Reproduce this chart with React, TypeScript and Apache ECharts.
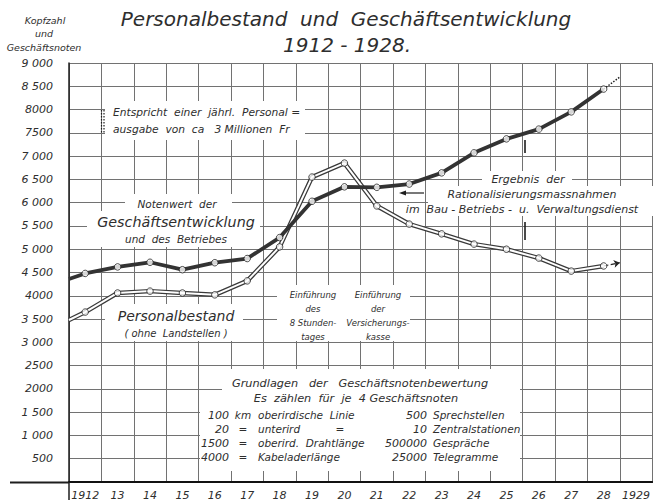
import React, { useEffect, useRef } from "react";
import * as echarts from "echarts";

// ---- data ----
const years = [1912, 1913, 1914, 1915, 1916, 1917, 1918, 1919, 1920, 1921, 1922, 1923, 1924, 1925, 1926, 1927, 1928];
const yearLabels = ["1912", "13", "14", "15", "16", "17", "18", "19", "20", "21", "22", "23", "24", "25", "26", "27", "28", "1929"];
const businessNotes = [4480, 4620, 4720, 4560, 4710, 4800, 5250, 6030, 6340, 6330, 6400, 6640, 7070, 7370, 7580, 7950, 8440];
const personnel = [3650, 4060, 4100, 4060, 4020, 4320, 5050, 6550, 6850, 5930, 5540, 5330, 5110, 5000, 4810, 4530, 4640];
const businessStartValue = 4360; // curve entering at the start of 1912
const personnelStartValue = 3480;
const businessTrendValue = 8700; // dotted continuation to 1929
const personnelTrendValue = 4710; // dashed continuation with arrow
const yTickLabels = ["", "500", "1 000", "1 500", "2000", "2500", "3 000", "3 500", "4000", "4 500", "5 000", "5 500", "6 000", "6 500", "7 000", "7500", "8000", "8 500", "9 000"];

const FONT = '"DejaVu Sans", sans-serif';
const INK = "#2e2e2e";
const GRID = "#727272";

function txt(text: string, x: number, y: number, size: number, align: string = "center") {
  return {
    type: "text",
    x,
    y,
    z: 3,
    silent: true,
    style: {
      text,
      fill: INK,
      fontSize: size,
      fontStyle: "italic",
      fontFamily: FONT,
      textAlign: align,
      textVerticalAlign: "middle",
    },
  };
}
function mask(x: number, y: number, w: number, h: number) {
  return { type: "rect", z: 2, silent: true, shape: { x, y, width: w, height: h }, style: { fill: "#ffffff" } };
}
function seg(x1: number, y1: number, x2: number, y2: number, w: number, dash?: number[]) {
  return {
    type: "line",
    z: 3,
    silent: true,
    shape: { x1, y1, x2, y2 },
    style: { stroke: "#1e1e1e", lineWidth: w, lineDash: dash || null },
  };
}

export default function App() {
  const ref = useRef<HTMLDivElement>(null);
  useEffect(() => {
    if (!ref.current) return;
    const chart = echarts.init(ref.current, null, { renderer: "svg" });
    const pts = (vals: number[]) => years.map((yr, i) => [yr + 0.5, vals[i]]);
    const last = years.length - 1;
    const lastX = years[last] + 0.5;
    const personnelLine = [[years[0], personnelStartValue], ...pts(personnel)];
    const businessLine = [[years[0], businessStartValue], ...pts(businessNotes)];

    const graphic: any[] = [
      txt("Personalbestand  und  Geschäftsentwicklung", 346, 19, 20),
      txt("1912 - 1928.", 347, 45, 20),
      txt("Kopfzahl", 45, 20, 9.5),
      txt("und", 44, 33, 9.5),
      txt("Geschäftsnoten", 44, 47, 9.5),
      seg(10, 482.5, 69, 482.5, 2),
      seg(69, 482, 69, 500, 1.5),
      // Entspricht ...
      mask(105, 101, 200, 39),
      seg(101.5, 110, 101.5, 134, 1.2, [1.5, 1.5]),
      seg(104, 110, 104, 134, 1.2, [1.5, 1.5]),
      txt("Entspricht  einer  jährl.  Personal =", 113, 112, 10.7, "left"),
      txt("ausgabe  von  ca   3 Millionen  Fr", 113, 129, 10.7, "left"),
      // Notenwert
      mask(125, 194, 107, 17),
      mask(87, 211, 173, 36),
      txt("Notenwert  der", 177, 204, 10.5),
      txt("Geschäftsentwicklung", 176, 222, 14.3),
      txt("und  des  Betriebes", 176, 239, 10.5),
      // Personalbestand
      mask(105, 304, 138, 37),
      txt("Personalbestand", 176, 316, 14),
      txt("( ohne  Landstellen )", 176, 333, 10),
      // Einführung
      mask(277, 285, 133, 56),
      txt("Einführung", 313, 295, 8.5),
      txt("des", 313, 309, 8.5),
      txt("8 Stunden-", 313, 323, 8.5),
      txt("tages", 313, 337, 8.5),
      txt("Einführung", 378, 295, 8.5),
      txt("der", 378, 309, 8.5),
      txt("Versicherungs-", 378, 323, 8.5),
      txt("kasse", 378, 337, 8.5),
      // Ergebnis
      mask(482, 171, 90, 15),
      mask(428, 186, 225, 30),
      seg(405, 193, 424, 193, 1.2),
      { type: "polygon", z: 3, silent: true, shape: { points: [[399, 193], [406, 190.5], [406, 195.5]] }, style: { fill: "#1e1e1e" } },
      seg(525, 140, 525, 153, 1.6),
      seg(525, 222, 525, 240, 1.6),
      txt("Ergebnis  der", 528, 179, 11),
      txt("Rationalisierungsmassnahmen", 532, 194, 11),
      txt("im  Bau - Betriebs -  u.  Verwaltungsdienst", 522, 209, 11),
      // Grundlagen
      mask(222, 369, 298, 31),
      mask(200, 400, 320, 71),
      txt("Grundlagen   der   Geschäftsnotenbewertung", 360, 383, 11.3),
      txt("Es  zählen  für  je  4 Geschäftsnoten", 356, 398, 11.3),
    ];
    const rows = [
      ["100", "km", "oberirdische  Linie", "500", "Sprechstellen"],
      ["20", "=", "unterird", "10", "Zentralstationen"],
      ["1500", "=", "oberird.  Drahtlänge", "500000", "Gespräche"],
      ["4000", "=", "Kabeladerlänge", "25000", "Telegramme"],
    ];
    const rowY = [415, 429, 443, 457];
    rows.forEach((r, i) => {
      graphic.push(txt(r[0], 229, rowY[i], 11, "right"));
      graphic.push(txt(r[1], 243, rowY[i], 10.5));
      graphic.push(txt(r[2], 258, rowY[i], 10.5, "left"));
      graphic.push(txt(r[3], 427, rowY[i], 11, "right"));
      graphic.push(txt(r[4], 433, rowY[i], 10.5, "left"));
    });
    graphic.push(txt("=", 340, rowY[1], 10.5));

    const labelStyle = { color: INK, fontSize: 11, fontStyle: "italic", fontFamily: FONT };

    chart.setOption({
      animation: false,
      backgroundColor: "#ffffff",
      grid: { left: 69, top: 63, width: 585, height: 419, containLabel: false },
      xAxis: [
        {
          type: "value",
          min: 1912,
          max: 1930,
          interval: 1,
          axisLine: { show: true, onZero: false, lineStyle: { color: "#111", width: 2 } },
          axisTick: { show: false },
          axisLabel: { show: false },
          splitLine: { show: true, lineStyle: { color: GRID, width: 1 } },
        },
        {
          type: "category",
          data: yearLabels,
          boundaryGap: true,
          position: "bottom",
          axisLine: { show: false },
          axisTick: { show: false },
          splitLine: { show: false },
          axisLabel: { ...labelStyle, margin: 8, interval: 0 },
        },
      ],
      yAxis: {
        type: "value",
        min: 0,
        max: 9000,
        interval: 500,
        axisLine: { show: true, lineStyle: { color: "#1e1e1e", width: 1.5 } },
        axisTick: { show: false },
        axisLabel: { ...labelStyle, margin: 16, formatter: (v: number) => yTickLabels[Math.round(v / 500)] || "" },
        splitLine: { show: true, lineStyle: { color: GRID, width: 1 } },
      },
      series: [
        {
          name: "Personalbestand",
          type: "line",
          xAxisIndex: 0,
          data: personnelLine,
          symbol: "none",
          z: 4,
          lineStyle: { color: "#3a3a3a", width: 4.5 },
        },
        {
          name: "Personalbestand (innen)",
          type: "line",
          xAxisIndex: 0,
          data: personnelLine,
          symbol: "none",
          z: 5,
          lineStyle: { color: "#ffffff", width: 2 },
        },
        {
          name: "Personalbestand Trend",
          type: "line",
          xAxisIndex: 0,
          data: [[lastX, personnel[last]], [years[last] + 1, personnelTrendValue]],
          symbol: "none",
          z: 4,
          lineStyle: { opacity: 0 },
          markLine: {
            silent: true,
            symbol: ["none", "arrow"],
            symbolSize: 6,
            label: { show: false },
            lineStyle: { color: "#222", width: 1.2, type: "dashed" },
            data: [[{ coord: [lastX, personnel[last]] }, { coord: [years[last] + 1, personnelTrendValue] }]],
          },
        },
        {
          name: "Geschäftsnoten",
          type: "line",
          xAxisIndex: 0,
          data: businessLine,
          symbol: "none",
          z: 6,
          lineStyle: { color: "#333333", width: 3.8 },
        },
        {
          name: "Geschäftsnoten Trend",
          type: "line",
          xAxisIndex: 0,
          data: [[lastX, businessNotes[last]], [years[last] + 1, businessTrendValue]],
          symbol: "none",
          z: 6,
          lineStyle: { color: "#222", width: 1.5, type: "dotted" },
        },
        {
          name: "Personalbestand Punkte",
          type: "scatter",
          xAxisIndex: 0,
          data: pts(personnel),
          symbol: "circle",
          symbolSize: 6.5,
          z: 7,
          itemStyle: { color: "#ffffff", borderColor: "#222", borderWidth: 1 },
        },
        {
          name: "Geschäftsnoten Punkte",
          type: "scatter",
          xAxisIndex: 0,
          data: pts(businessNotes),
          symbol: "circle",
          symbolSize: 6.5,
          z: 7,
          itemStyle: { color: "#ffffff", borderColor: "#222", borderWidth: 1 },
        },
      ],
      graphic,
    });
    return () => chart.dispose();
  }, []);
  return <div ref={ref} style={{ position: "fixed", left: 0, top: 0, width: 653, height: 504 }} />;
}
